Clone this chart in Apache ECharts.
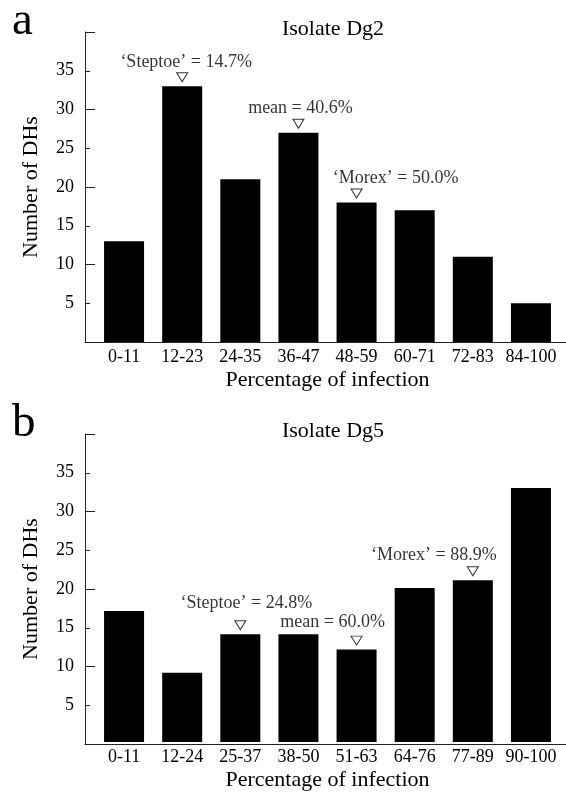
<!DOCTYPE html>
<html>
<head>
<meta charset="utf-8">
<script src="https://cdn.jsdelivr.net/npm/echarts@6/dist/echarts.min.js"></script>
<style>
    html,body{margin:0;padding:0;background:#fff;}
    #main{width:566px;height:792px;}
</style>
</head>
<body>
<div id="main"></div>
<script>
//数据
var catsA = ['0-11','12-23','24-35','36-47','48-59','60-71','72-83','84-100'];
var countsA = [13, 33, 21, 27, 18, 17, 11, 5];
var markBinsA = [1, 3, 4];
var markTextA = ['\u2018Steptoe\u2019 = 14.7%', 'mean = 40.6%', '\u2018Morex\u2019 = 50.0%'];

var catsB = ['0-11','12-24','25-37','38-50','51-63','64-76','77-89','90-100'];
var countsB = [17, 9, 14, 14, 12, 20, 21, 33];
var markBinsB = [2, 4, 6];
var markTextB = ['\u2018Steptoe\u2019 = 24.8%', 'mean = 60.0%', '\u2018Morex\u2019 = 88.9%'];

var yTicks = [0, 40];

var FONT = '"Liberation Serif", "DejaVu Serif", serif';

var grids = [], xAxes = [], yAxes = [], seriesList = [], titles = [], graphics = [];

// 标注文字相对三角形的偏移
function labelOffsets(panel){
    if(panel == 0){
        return [[4, -15], [2, -15], [39, -15]];
    }
    return [[6, -22], [-24, -18], [-39, -16]];
}

function buildPanel(p, top, letter, name, cats, counts, bins, texts){
    var bottom = 792 - top - 310;
    var g = p * 2, ya = p * 3;
    //轴线用的grid
    grids.push({left: 85, right: 0, top: top, bottom: bottom});
    //柱子用的grid
    grids.push({left: 95, right: 6, top: top, bottom: bottom});

    xAxes.push({
        gridIndex: g, type: 'value', min: 0, max: 1,
        axisLine: {show: true, lineStyle: {color: '#222', width: 1}},
        axisTick: {show: false}, axisLabel: {show: false}, splitLine: {show: false}
    });
    xAxes.push({
        gridIndex: g + 1, type: 'category', data: cats,
        axisLine: {show: false}, axisTick: {show: false},
        axisLabel: {color: '#000', fontSize: 18, fontFamily: FONT, margin: 6, interval: 0},
        name: 'Percentage of infection', nameLocation: 'middle', nameGap: 27,
        nameTextStyle: {color: '#000', fontSize: 22, fontFamily: FONT}
    });

    yAxes.push({
        gridIndex: g, type: 'value', min: yTicks[0], max: yTicks[1], interval: 5, position: 'left',
        axisLine: {show: true, lineStyle: {color: '#222', width: 1}},
        axisTick: {show: true, inside: true, length: 5, lineStyle: {color: '#222'}},
        axisLabel: {color: '#000', fontSize: 18, fontFamily: FONT, margin: 11, showMinLabel: false, showMaxLabel: false},
        splitLine: {show: false},
        name: 'Number of DHs', nameLocation: 'middle', nameGap: 43,
        nameTextStyle: {color: '#000', fontSize: 22, fontFamily: FONT}
    });
    yAxes.push({
        gridIndex: g, type: 'value', min: yTicks[0], max: yTicks[1], interval: 10, position: 'left', offset: 0,
        axisLine: {show: false},
        axisTick: {show: true, inside: true, length: 10, lineStyle: {color: '#222'}},
        axisLabel: {show: false}, splitLine: {show: false}
    });
    yAxes.push({
        gridIndex: g + 1, type: 'value', min: yTicks[0], max: yTicks[1], show: false
    });

    seriesList.push({
        type: 'bar', xAxisIndex: g + 1, yAxisIndex: ya + 2,
        data: counts, barWidth: 40,
        itemStyle: {color: '#000'},
        emphasis: {disabled: true}, silent: true
    });

    var offs = labelOffsets(p);
    var pts = [];
    for(var i = 0; i < bins.length; i++){
        pts.push({
            value: [bins[i], counts[bins[i]]],
            label: {offset: offs[i], formatter: texts[i]}
        });
    }
    seriesList.push({
        type: 'scatter', xAxisIndex: g + 1, yAxisIndex: ya + 2,
        data: pts, z: 5, silent: true,
        symbol: 'path://M0,0 L10,0 L5,8.5 Z', symbolSize: [11, 9], symbolOffset: [0, -9],
        itemStyle: {color: '#fff', borderColor: '#000', borderWidth: 1},
        label: {show: true, position: 'inside', color: '#000', fontSize: 18, fontFamily: FONT}
    });

    titles.push({
        text: name, left: 328, top: top - 19, textAlign: 'center',
        textStyle: {color: '#000', fontSize: 22, fontWeight: 'normal', fontFamily: FONT}
    });
    graphics.push({
        type: 'text', left: 12, top: top - 34,
        style: {text: letter, fill: '#000', font: '47px ' + FONT}
    });
}

buildPanel(0, 32, 'a', 'Isolate Dg2', catsA, countsA, markBinsA, markTextA);
buildPanel(1, 434, 'b', 'Isolate Dg5', catsB, countsB, markBinsB, markTextB);

var myChart = echarts.init(document.getElementById('main'));
myChart.setOption({
    backgroundColor: '#fff',
    animation: false,
    title: titles,
    grid: grids,
    xAxis: xAxes,
    yAxis: yAxes,
    series: seriesList,
    graphic: graphics
});
</script>
</body>
</html>
